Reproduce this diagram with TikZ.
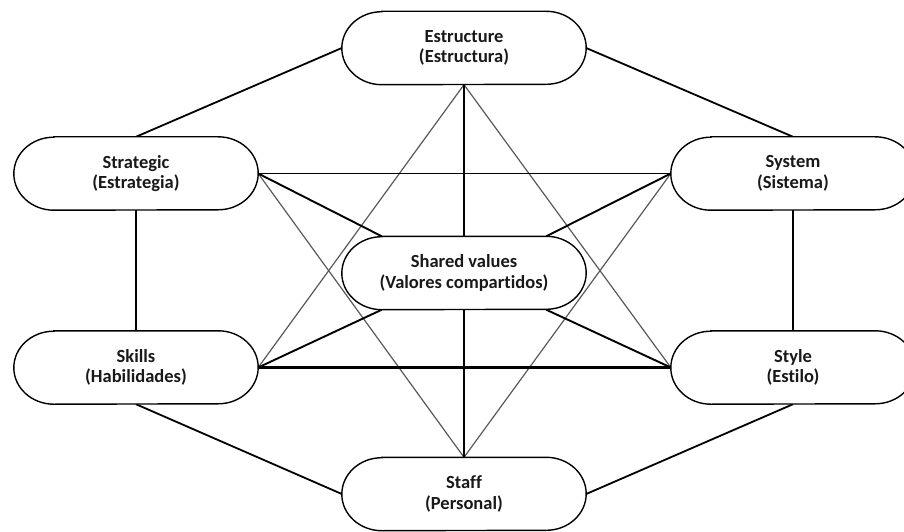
\documentclass[tikz,border=0pt]{standalone}
\usepackage{fontspec}
\setmainfont{Carlito}[Ligatures=NoCommon]
\usetikzlibrary{backgrounds}
\newcommand{\stadium}[1]{%
  \draw[outline] ([xshift=40pt]#1.north west) -- ([xshift=-40pt]#1.north east)
    arc[start angle=90,end angle=-90,x radius=40pt,y radius=36.5pt]
    -- ([xshift=40pt]#1.south west)
    arc[start angle=270,end angle=90,x radius=40pt,y radius=36.5pt] -- cycle;}
\tikzset{
  box/.style={minimum width=244pt, minimum height=73pt, align=center, inner sep=0pt,
    font=\bfseries\fontsize{18.5}{20.5}\selectfont, text=black!90},
  outline/.style={line width=1.4pt, black, fill=white},
  hexline/.style={line width=1.8pt, black},
  thickline/.style={line width=2.8pt, black},
  thinline/.style={line width=1.1pt, black},
  greyline/.style={line width=1.2pt, black!65},
  spoke/.style={line width=1.9pt, black},
}
\begin{document}
\begin{tikzpicture}[x=1pt,y=1pt]
\useasboundingbox (0,0) rectangle (904,531);
\clip (0,0) rectangle (904,531);
\node[box] (e)   at (464,483)   {Estructure\\(Estructura)};
\node[box] (st)  at (136,357.5) {Strategic\\(Estrategia)};
\node[box] (sy)  at (793,357.5) {System\\(Sistema)};
\node[box] (sv)  at (464,258)   {Shared values\\(Valores compartidos)};
\node[box] (sk)  at (136,163.5) {Skills\\(Habilidades)};
\node[box] (sty) at (793,163.5) {Style\\(Estilo)};
\node[box] (sf)  at (464,37)    {Staff\\(Personal)};
\coordinate (svnw) at ([xshift=40pt]sv.north west);
\coordinate (svne) at ([xshift=-40pt]sv.north east);
\coordinate (svsw) at ([xshift=40pt]sv.south west);
\coordinate (svse) at ([xshift=-40pt]sv.south east);
\begin{pgfonlayer}{background}
  % outer hexagon
  \draw[hexline] (e.west) -- (st.north);
  \draw[hexline] (e.east) -- (sy.north);
  \draw[hexline] (st.south) -- (sk.north);
  \draw[hexline] (sy.south) -- (sty.north);
  \draw[hexline] (sk.south) -- (sf.west);
  \draw[hexline] (sty.south) -- (sf.east);
  % thin grey diagonals
  \draw[greyline] (st.east) -- (sf.north);
  \draw[greyline] (sy.west) -- (sf.north);
  \draw[greyline] (e.south) -- (sk.east);
  \draw[greyline] (e.south) -- (sty.west);
  % thin horizontal
  \draw[thinline] (st.east) -- (sy.west);
  % spokes to shared values
  \draw[spoke] (st.east) -- (svnw);
  \draw[spoke] (sy.west) -- (svne);
  \draw[spoke] (sk.east) -- (svsw);
  \draw[spoke] (sty.west) -- (svse);
  % thick lines
  \draw[thickline] (e.south) -- (sv.north);
  \draw[thickline] (sv.south) -- (sf.north);
  \draw[thickline] (sk.east) -- (sty.west);
  % node outlines (filled white, under the texts)
  \stadium{e}
  \stadium{st}
  \stadium{sy}
  \stadium{sv}
  \stadium{sk}
  \stadium{sty}
  \stadium{sf}
\end{pgfonlayer}
\end{tikzpicture}
\end{document}
